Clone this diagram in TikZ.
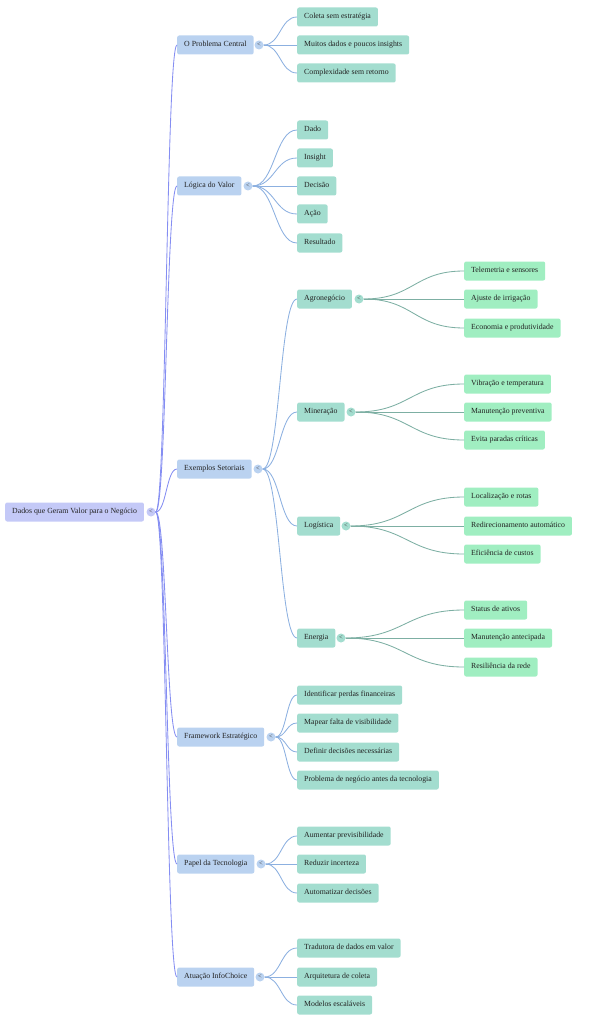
\documentclass[tikz,border=0pt]{standalone}
\usepackage{fontspec}
\setmainfont{Liberation Serif}
\usetikzlibrary{calc}
\definecolor{rootc}{HTML}{C4C9F7}
\definecolor{lonec}{HTML}{BAD2F0}
\definecolor{ltwoc}{HTML}{A3DDCF}
\definecolor{lthreec}{HTML}{A0EEC1}
\definecolor{ezero}{HTML}{858EF2}
\definecolor{eone}{HTML}{8CB0E0}
\definecolor{etwo}{HTML}{7DAFA3}
\definecolor{txt}{HTML}{222222}
\tikzset{
  base/.style={anchor=west, rounded corners=2pt, inner xsep=7pt, inner ysep=0pt,
    minimum height=19pt, text height=5.5pt, text depth=1.6pt, text=txt,
    font=\fontsize{7.8}{9}\selectfont},
  rootbox/.style={base, fill=rootc},
  onebox/.style={base, fill=lonec},
  twobox/.style={base, fill=ltwoc},
  threebox/.style={base, fill=lthreec},
  tog/.style={circle, inner sep=0pt, minimum size=9pt, text=black!75,
    font=\fontsize{6.5}{6.5}\selectfont},
  ez/.style={draw=ezero, line width=0.85pt},
  eo/.style={draw=eone, line width=0.85pt},
  et/.style={draw=etwo, line width=0.85pt},
}
\newcommand{\conn}[3]{%
  \draw[#3] let \p1=(#1.east), \p2=(#2.west) in
    (\p1) .. controls ({0.5*\x1+0.5*\x2},\y1) and ({0.5*\x1+0.5*\x2},\y2) .. (\p2);}
\begin{document}
\begin{tikzpicture}[x=1pt,y=-1pt]
\useasboundingbox (0,0) rectangle (589,1024);
% root
\node[rootbox] (root) at (5,512) {Dados que Geram Valor para o Negócio};
\node[tog, fill=rootc] (troot) at (151,512) {<};
% level 1
\node[onebox] (pc) at (177,45) {O Problema Central};
\node[tog, fill=lonec] (tpc) at (259,45) {<};
\node[onebox] (lv) at (177,186) {Lógica do Valor};
\node[tog, fill=lonec] (tlv) at (248,186) {<};
\node[onebox] (es) at (177,469) {Exemplos Setoriais};
\node[tog, fill=lonec] (tes) at (258,469) {<};
\node[onebox] (fe) at (177,737) {Framework Estratégico};
\node[tog, fill=lonec] (tfe) at (271,737) {<};
\node[onebox] (pt) at (177,864) {Papel da Tecnologia};
\node[tog, fill=lonec] (tpt) at (261,864) {<};
\node[onebox] (ai) at (177,977) {Atuação InfoChoice};
\node[tog, fill=lonec] (tai) at (260,977) {<};
% problema central
\node[twobox] (pc1) at (297,17) {Coleta sem estratégia};
\node[twobox] (pc2) at (297,45) {Muitos dados e poucos insights};
\node[twobox] (pc3) at (297,73) {Complexidade sem retorno};
% logica
\node[twobox] (lv1) at (297,130) {Dado};
\node[twobox] (lv2) at (297,158) {Insight};
\node[twobox] (lv3) at (297,186) {Decisão};
\node[twobox] (lv4) at (297,214) {Ação};
\node[twobox] (lv5) at (297,243) {Resultado};
% exemplos
\node[twobox] (ag) at (297,299) {Agronegócio};
\node[tog, fill=ltwoc] (tag) at (359,299) {<};
\node[twobox] (mi) at (297,412) {Mineração};
\node[tog, fill=ltwoc] (tmi) at (351,412) {<};
\node[twobox] (lo) at (297,526) {Logística};
\node[tog, fill=ltwoc] (tlo) at (346,526) {<};
\node[twobox] (en) at (297,638) {Energia};
\node[tog, fill=ltwoc] (ten) at (341,638) {<};
\node[threebox] (ag1) at (464,271) {Telemetria e sensores};
\node[threebox] (ag2) at (464,299) {Ajuste de irrigação};
\node[threebox] (ag3) at (464,328) {Economia e produtividade};
\node[threebox] (mi1) at (464,384) {Vibração e temperatura};
\node[threebox] (mi2) at (464,412) {Manutenção preventiva};
\node[threebox] (mi3) at (464,440) {Evita paradas críticas};
\node[threebox] (lo1) at (464,497) {Localização e rotas};
\node[threebox] (lo2) at (464,526) {Redirecionamento automático};
\node[threebox] (lo3) at (464,554) {Eficiência de custos};
\node[threebox] (en1) at (464,610) {Status de ativos};
\node[threebox] (en2) at (464,638) {Manutenção antecipada};
\node[threebox] (en3) at (464,667) {Resiliência da rede};
% framework
\node[twobox] (fe1) at (297,695) {Identificar perdas financeiras};
\node[twobox] (fe2) at (297,723) {Mapear falta de visibilidade};
\node[twobox] (fe3) at (297,752) {Definir decisões necessárias};
\node[twobox] (fe4) at (297,780) {Problema de negócio antes da tecnologia};
% papel
\node[twobox] (pt1) at (297,836) {Aumentar previsibilidade};
\node[twobox] (pt2) at (297,864) {Reduzir incerteza};
\node[twobox] (pt3) at (297,893) {Automatizar decisões};
% atuacao
\node[twobox] (ai1) at (297,948) {Tradutora de dados em valor};
\node[twobox] (ai2) at (297,977) {Arquitetura de coleta};
\node[twobox] (ai3) at (297,1005) {Modelos escaláveis};
% connectors
\foreach \nm in {pc,lv,es,fe,pt,ai} {\conn{troot}{\nm}{ez}}
\foreach \nm in {pc1,pc2,pc3} {\conn{tpc}{\nm}{eo}}
\foreach \nm in {lv1,lv2,lv3,lv4,lv5} {\conn{tlv}{\nm}{eo}}
\foreach \nm in {ag,mi,lo,en} {\conn{tes}{\nm}{eo}}
\foreach \nm in {fe1,fe2,fe3,fe4} {\conn{tfe}{\nm}{eo}}
\foreach \nm in {pt1,pt2,pt3} {\conn{tpt}{\nm}{eo}}
\foreach \nm in {ai1,ai2,ai3} {\conn{tai}{\nm}{eo}}
\foreach \nm in {ag1,ag2,ag3} {\conn{tag}{\nm}{et}}
\foreach \nm in {mi1,mi2,mi3} {\conn{tmi}{\nm}{et}}
\foreach \nm in {lo1,lo2,lo3} {\conn{tlo}{\nm}{et}}
\foreach \nm in {en1,en2,en3} {\conn{ten}{\nm}{et}}
\end{tikzpicture}
\end{document}
